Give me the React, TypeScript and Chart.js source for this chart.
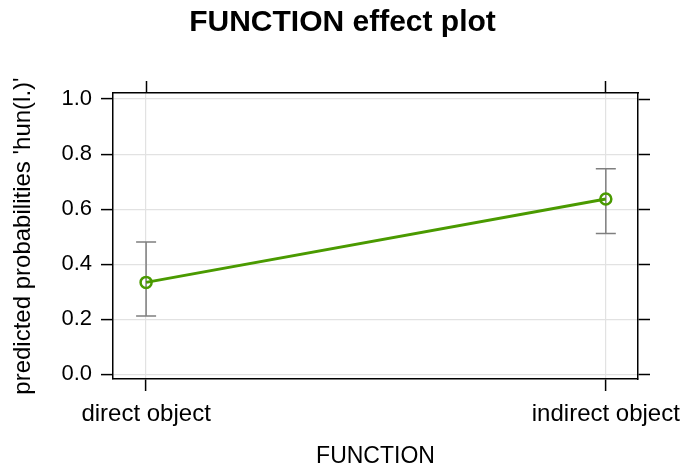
import React, { useEffect, useRef } from "react";
import { Chart, registerables } from "chart.js";

Chart.register(...registerables);

// Effect estimates for each level of FUNCTION, with their confidence limits
const CATEGORIES = ["direct object", "indirect object"];
const FIT = [0.334, 0.637];
const LOWER = [0.212, 0.512];
const UPPER = [0.481, 0.747];
const Y_TICKS = [0, 0.2, 0.4, 0.6, 0.8, 1.0];
const X_POSITIONS = [1, 2];

const FONT = "'Liberation Sans', Arial, Helvetica, sans-serif";
const GREEN = "#4a9a00";
const GRID = "#e2e2e2";

// Draws the vertical confidence bars with their end caps underneath the line
const errorBars = {
  id: "errorBars",
  beforeDatasetsDraw(chart: any) {
    const { ctx } = chart;
    const x = chart.scales.x;
    const y = chart.scales.y;
    ctx.save();
    ctx.strokeStyle = "#7f7f7f";
    ctx.lineWidth = 1.5;
    X_POSITIONS.forEach((xv, i) => {
      const px = x.getPixelForValue(xv);
      const top = y.getPixelForValue(UPPER[i]);
      const bot = y.getPixelForValue(LOWER[i]);
      ctx.beginPath();
      ctx.moveTo(px, top);
      ctx.lineTo(px, bot);
      ctx.moveTo(px - 10, top);
      ctx.lineTo(px + 10, top);
      ctx.moveTo(px - 10, bot);
      ctx.lineTo(px + 10, bot);
      ctx.stroke();
    });
    ctx.restore();
  },
};

const fixSize = (prop: "width" | "height", size: number) => (s: any) => {
  s[prop] = size;
  s.paddingLeft = 0;
  s.paddingRight = 0;
  s.paddingTop = 0;
  s.paddingBottom = 0;
};

const xTicks = (s: any) => {
  s.ticks = X_POSITIONS.map((v) => ({ value: v }));
};
const yTicks = (s: any) => {
  s.ticks = Y_TICKS.map((v) => ({ value: v }));
};

export default function App() {
  const canvasRef = useRef<HTMLCanvasElement | null>(null);

  useEffect(() => {
    const canvas = canvasRef.current;
    if (!canvas) return;
    Chart.defaults.font.family = FONT;
    Chart.defaults.color = "#000";

    const xRange = { min: 0.928, max: 2.07 };
    const yRange = { min: -0.017, max: 1.022 };
    const border = { display: true, color: "#000", width: 1.5 };

    const chart = new Chart(canvas, {
      type: "line",
      data: {
        datasets: [
          {
            data: X_POSITIONS.map((x, i) => ({ x, y: FIT[i] })),
            borderColor: GREEN,
            borderWidth: 3,
            pointRadius: 5.5,
            pointBorderWidth: 2.5,
            pointBorderColor: GREEN,
            pointBackgroundColor: "rgba(0,0,0,0)",
            tension: 0,
          },
        ],
      },
      options: {
        responsive: false,
        animation: false,
        events: [],
        layout: { autoPadding: false, padding: 0 },
        plugins: {
          legend: { display: false },
          tooltip: { enabled: false },
          title: {
            display: true,
            text: "FUNCTION effect plot",
            color: "#000",
            font: { family: FONT, size: 30, weight: "bold", lineHeight: 1.2 },
            padding: { top: 5, bottom: 40 },
          },
        },
        scales: {
          x: {
            type: "linear",
            position: "bottom",
            ...xRange,
            bounds: "data",
            afterBuildTicks: xTicks,
            afterFit: fixSize("height", 88),
            border,
            grid: {
              color: GRID,
              lineWidth: 1.2,
              tickColor: "#000",
              tickWidth: 1.5,
              tickLength: 12,
            },
            ticks: {
              padding: 9,
              maxRotation: 0,
              autoSkip: false,
              font: { size: 24 },
              callback: (v: any) => CATEGORIES[X_POSITIONS.indexOf(Number(v))] ?? "",
            },
            title: {
              display: true,
              text: "FUNCTION",
              font: { size: 23, lineHeight: 1 },
              padding: { top: 0, bottom: -1 },
            },
          },
          xTop: {
            type: "linear",
            position: "top",
            ...xRange,
            bounds: "data",
            afterBuildTicks: xTicks,
            afterFit: fixSize("height", 12),
            border,
            grid: {
              drawOnChartArea: false,
              tickColor: "#000",
              tickWidth: 1.5,
              tickLength: 12,
            },
            ticks: { display: false },
          },
          y: {
            type: "linear",
            position: "left",
            ...yRange,
            bounds: "data",
            afterBuildTicks: yTicks,
            afterFit: fixSize("width", 113),
            border,
            grid: {
              color: GRID,
              lineWidth: 1.2,
              tickColor: "#000",
              tickWidth: 1.5,
              tickLength: 12,
            },
            ticks: {
              padding: 9,
              font: { size: 22 },
              callback: (v: any) => Number(v).toFixed(1),
            },
            title: {
              display: true,
              text: "predicted probabilities 'hun(l.)'",
              font: { size: 24, lineHeight: 1.2 },
              padding: { top: 9, bottom: 0 },
            },
          },
          yRight: {
            type: "linear",
            position: "right",
            ...yRange,
            bounds: "data",
            afterBuildTicks: yTicks,
            afterFit: fixSize("width", 47),
            border,
            grid: {
              drawOnChartArea: false,
              tickColor: "#000",
              tickWidth: 1.5,
              tickLength: 12,
            },
            ticks: { display: false },
          },
        },
      },
      plugins: [errorBars],
    } as any);

    return () => chart.destroy();
  }, []);

  return (
    <div style={{ position: "absolute", left: 0, top: 0, width: 685, height: 467, background: "#fff" }}>
      <canvas ref={canvasRef} width={685} height={467} style={{ display: "block" }} />
    </div>
  );
}
